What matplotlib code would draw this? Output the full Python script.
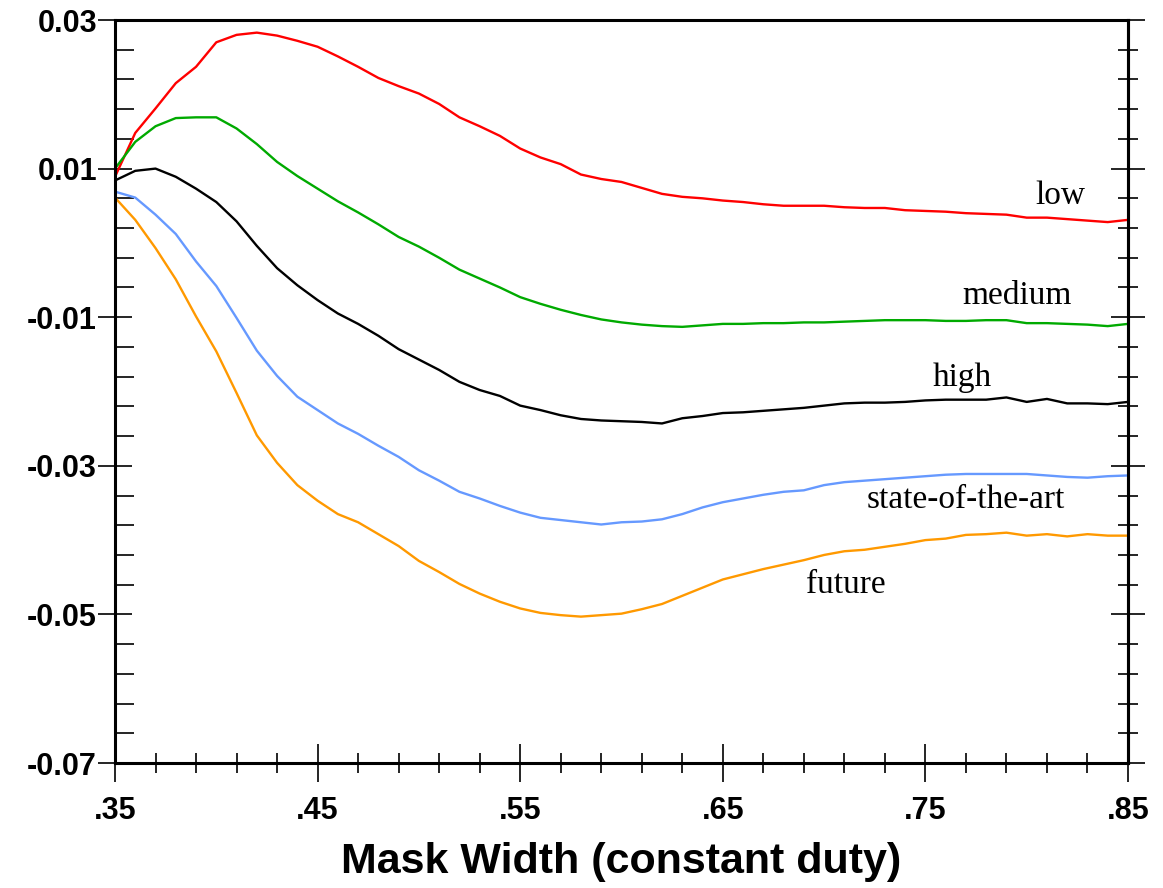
import matplotlib
matplotlib.use('Agg')
import matplotlib.pyplot as plt
import numpy as np

# mask width, .35 to .85 in steps of .01
breedte = [round(0.35 + 0.01 * i, 2) for i in range(51)]

low = [0.0089, 0.0148, 0.0181, 0.0215, 0.0237, 0.0270, 0.0280, 0.0283, 0.0279, 0.0272,
       0.0264, 0.0251, 0.0237, 0.0222, 0.0211, 0.0201, 0.0187, 0.0169, 0.0157, 0.0144,
       0.0127, 0.0115, 0.0106, 0.0092, 0.0086, 0.0082, 0.0074, 0.0066, 0.0062, 0.0060,
       0.0057, 0.0055, 0.0052, 0.0050, 0.0050, 0.0050, 0.0048, 0.0047, 0.0047, 0.0044,
       0.0043, 0.0042, 0.0040, 0.0039, 0.0038, 0.0034, 0.0034, 0.0032, 0.0030, 0.0028,
       0.0031]

medium = [0.0100, 0.0136, 0.0157, 0.0168, 0.0169, 0.0169, 0.0154, 0.0133, 0.0109, 0.0090,
          0.0073, 0.0056, 0.0041, 0.0025, 0.0008, -0.0005, -0.0020, -0.0036, -0.0048, -0.0060,
          -0.0073, -0.0082, -0.0090, -0.0097, -0.0103, -0.0107, -0.0110, -0.0112, -0.0113, -0.0111,
          -0.0109, -0.0109, -0.0108, -0.0108, -0.0107, -0.0107, -0.0106, -0.0105, -0.0104, -0.0104,
          -0.0104, -0.0105, -0.0105, -0.0104, -0.0104, -0.0108, -0.0108, -0.0109, -0.0110, -0.0112,
          -0.0109]

high = [0.0084, 0.0097, 0.0100, 0.0089, 0.0073, 0.0055, 0.0029, -0.0004, -0.0034, -0.0057,
        -0.0077, -0.0095, -0.0109, -0.0125, -0.0143, -0.0157, -0.0171, -0.0187, -0.0198, -0.0206,
        -0.0219, -0.0225, -0.0232, -0.0237, -0.0239, -0.0240, -0.0241, -0.0243, -0.0236, -0.0233,
        -0.0229, -0.0228, -0.0226, -0.0224, -0.0222, -0.0219, -0.0216, -0.0215, -0.0215, -0.0214,
        -0.0212, -0.0211, -0.0211, -0.0211, -0.0208, -0.0214, -0.0210, -0.0216, -0.0216, -0.0217,
        -0.0214]

state_of_the_art = [0.0069, 0.0061, 0.0038, 0.0012, -0.0025, -0.0058, -0.0101, -0.0145, -0.0179, -0.0207,
                    -0.0225, -0.0243, -0.0257, -0.0273, -0.0288, -0.0306, -0.0320, -0.0335, -0.0344, -0.0354,
                    -0.0363, -0.0370, -0.0373, -0.0376, -0.0379, -0.0376, -0.0375, -0.0372, -0.0365, -0.0356,
                    -0.0349, -0.0344, -0.0339, -0.0335, -0.0333, -0.0326, -0.0322, -0.0320, -0.0318, -0.0316,
                    -0.0314, -0.0312, -0.0311, -0.0311, -0.0311, -0.0311, -0.0313, -0.0315, -0.0316, -0.0314,
                    -0.0313]

future = [0.0061, 0.0031, -0.0007, -0.0049, -0.0099, -0.0146, -0.0202, -0.0259, -0.0296, -0.0326,
          -0.0347, -0.0365, -0.0376, -0.0392, -0.0408, -0.0428, -0.0443, -0.0459, -0.0472, -0.0483,
          -0.0492, -0.0498, -0.0501, -0.0503, -0.0501, -0.0499, -0.0493, -0.0486, -0.0475, -0.0464,
          -0.0453, -0.0446, -0.0439, -0.0433, -0.0427, -0.0420, -0.0415, -0.0413, -0.0409, -0.0405,
          -0.0400, -0.0398, -0.0393, -0.0392, -0.0390, -0.0394, -0.0392, -0.0395, -0.0392, -0.0394,
          -0.0394]

x_ticks = [0.35, 0.45, 0.55, 0.65, 0.75, 0.85]
x_labels = ['.35', '.45', '.55', '.65', '.75', '.85']
y_ticks = [0.03, 0.01, -0.01, -0.03, -0.05, -0.07]
y_labels = ['0.03', '0.01', '-0.01', '-0.03', '-0.05', '-0.07']

# naam, data, kleur, label x, label y (baseline)
curves = [
    ('low', low, '#ff0000', 0.8164, 0.00524),
    ('medium', medium, '#00aa00', 0.7950, -0.00822),
    ('high', high, '#000000', 0.7680, -0.01926),
    ('state-of-the-art', state_of_the_art, '#6699ff', 0.7700, -0.03572),
    ('future', future, '#ff9900', 0.7108, -0.04708),
]

fig = plt.figure(figsize=(11.63, 8.88), dpi=100)
ax = fig.add_axes([115 / 1163, 1 - 763 / 888, 1013 / 1163, 743 / 888])

for naam, data, kleur, tx, ty in curves:
    ax.plot(breedte, data, color=kleur, linewidth=1.7)
    ax.text(tx, ty, naam, color='black', fontsize=24, family='Liberation Serif',
            ha='center', va='baseline')

ax.set_xlim(0.35, 0.85)
ax.set_ylim(-0.07, 0.03)

ax.set_xticks(x_ticks)
ax.set_xticklabels(x_labels)
ax.set_xticks(np.arange(0.35, 0.8501, 0.02), minor=True)
ax.set_yticks(y_ticks)
ax.set_yticklabels(y_labels)
ax.set_yticks(np.arange(-0.07, 0.0301, 0.004), minor=True)

for s in ax.spines.values():
    s.set_linewidth(2.2)

ax.tick_params(axis='x', which='major', direction='inout', length=27, width=1.2, pad=10,
               labelsize=22, top=False)
ax.tick_params(axis='x', which='minor', direction='inout', length=14, width=1.2, top=False)
ax.tick_params(axis='y', which='major', direction='inout', length=24, width=1.2, pad=1,
               labelsize=22)
ax.tick_params(axis='y', which='minor', direction='in', length=14, width=1.2)
for lab in ax.get_xticklabels() + ax.get_yticklabels():
    lab.set_fontweight('bold')
    lab.set_family('Liberation Sans')

# rechter as met eigen tickjes
rechts = ax.secondary_yaxis('right')
rechts.set_yticks(y_ticks)
rechts.set_yticks(np.arange(-0.07, 0.0301, 0.004), minor=True)
rechts.tick_params(which='major', direction='inout', length=24, width=1.2, labelright=False)
rechts.tick_params(which='minor', direction='inout', length=14, width=1.2)
rechts.spines['right'].set_linewidth(2.2)

ax.set_xlabel('Mask Width (constant duty)', fontsize=31, fontweight='bold',
              family='Liberation Sans', labelpad=12)

fig.savefig('out.png', dpi=100)
